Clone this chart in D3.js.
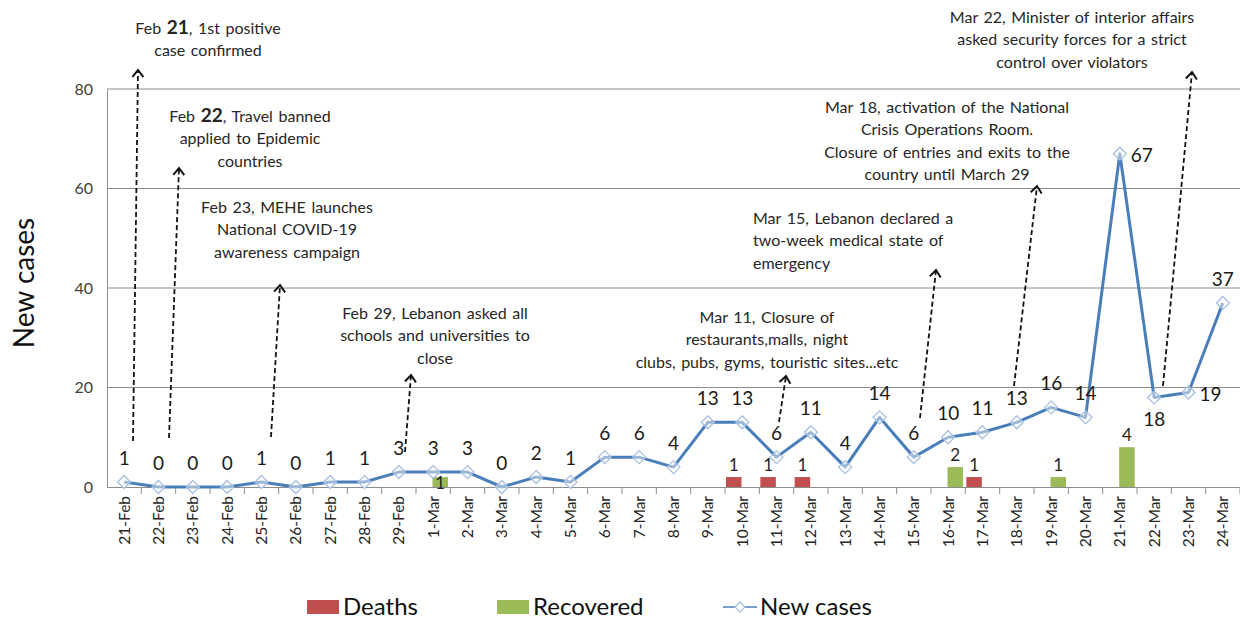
<!DOCTYPE html>
<html>
<head>
<meta charset="utf-8">
<script src="https://cdn.jsdelivr.net/npm/d3@7"></script>
<style>
  body { margin: 0; background: #fff; }
  svg { display: block; font-family: Lato, "Open Sans", sans-serif; }
</style>
</head>
<body>
<svg id="chart" width="1240" height="619"></svg>
<script>
// data
var dates = ['21-Feb','22-Feb','23-Feb','24-Feb','25-Feb','26-Feb','27-Feb','28-Feb','29-Feb',
  '1-Mar','2-Mar','3-Mar','4-Mar','5-Mar','6-Mar','7-Mar','8-Mar','9-Mar','10-Mar','11-Mar',
  '12-Mar','13-Mar','14-Mar','15-Mar','16-Mar','17-Mar','18-Mar','19-Mar','20-Mar','21-Mar',
  '22-Mar','23-Mar','24-Mar'];
var newCases = [1,0,0,0,1,0,1,1,3,3,3,0,2,1,6,6,4,13,13,6,11,4,14,6,10,11,13,16,14,67,18,19,37];
var deaths    = [0,0,0,0,0,0,0,0,0,0,0,0,0,0,0,0,0,0,1,1,1,0,0,0,0,1,0,0,0,0,0,0,0];
var recovered = [0,0,0,0,0,0,0,0,0,1,0,0,0,0,0,0,0,0,0,0,0,0,0,0,2,0,0,1,0,4,0,0,0];
var yTicks = [0, 20, 40, 60, 80];

var notes = [
  ['Feb 21, 1st positive', 'case confirmed'],
  ['Feb 22, Travel banned', 'applied to Epidemic', 'countries'],
  ['Feb 23, MEHE launches', 'National COVID-19', 'awareness campaign'],
  ['Feb 29, Lebanon asked all', 'schools and universities to', 'close'],
  ['Mar 11, Closure of', 'restaurants,malls, night', 'clubs, pubs, gyms, touristic sites...etc'],
  ['Mar 15, Lebanon declared a', 'two-week medical state of', 'emergency'],
  ['Mar 18, activation of the National', 'Crisis Operations Room.', 'Closure of entries and exits to the', 'country until March 29'],
  ['Mar 22, Minister of interior affairs', 'asked security forces for a strict', 'control over violators']
];

// layout of the annotation boxes and arrows (pixels)
var noteLayout = [
  {x: 208, y: 28, anchor: 'middle', from: [133, 441], to: [138, 70]},
  {x: 250, y: 116, anchor: 'middle', from: [169, 438], to: [179, 168]},
  {x: 287, y: 207, anchor: 'middle', from: [271, 437], to: [280, 285]},
  {x: 435, y: 313, anchor: 'middle', from: [405, 452], to: [411, 375]},
  {x: 767, y: 317, anchor: 'middle', from: [779, 422], to: [786, 376]},
  {x: 753, y: 218, anchor: 'start', from: [920, 418], to: [936, 270]},
  {x: 947, y: 107, anchor: 'middle', from: [1014, 386], to: [1037, 186]},
  {x: 1072, y: 17, anchor: 'middle', from: [1163, 386], to: [1192, 72]}
];

var svg = d3.select('#chart');
var plotLeft = 107, plotRight = 1240, plotTop = 89, plotBottom = 487;

var x = d3.scaleBand().domain(dates).range([plotLeft, plotRight]).padding(0);
var y = d3.scaleLinear().domain([0, 80]).range([plotBottom, plotTop]);
var yBar = d3.scaleLinear().domain([0, 40]).range([plotBottom, plotTop]);
var bw = x.bandwidth();

// gridlines
svg.append('g').selectAll('line')
  .data(yTicks.filter(function (d) { return d > 0; }))
  .enter().append('line')
  .attr('x1', plotLeft).attr('x2', plotRight)
  .attr('y1', function (d) { return y(d); })
  .attr('y2', function (d) { return y(d); })
  .attr('stroke', '#8c8c8c').attr('stroke-width', 1);

// y axis
var yAxis = svg.append('g')
  .attr('transform', 'translate(' + plotLeft + ',0)')
  .call(d3.axisLeft(y).tickValues(yTicks).tickSize(0).tickPadding(14));
yAxis.select('.domain').attr('stroke', '#8c8c8c');
yAxis.selectAll('text')
  .style('font-family', 'Lato, sans-serif')
  .style('font-size', '16px')
  .attr('fill', '#404040');

// x axis
var xAxis = svg.append('g')
  .attr('transform', 'translate(0,' + plotBottom + ')')
  .call(d3.axisBottom(x).tickSize(0).tickPadding(0));
xAxis.select('.domain').attr('stroke', '#8c8c8c');
xAxis.selectAll('text')
  .style('font-family', 'Lato, sans-serif')
  .style('font-size', '15.5px')
  .attr('fill', '#262626')
  .attr('text-anchor', 'end')
  .attr('y', 0)
  .attr('dy', '0.35em')
  .attr('transform', 'translate(0,9) rotate(-90)');
// tick marks between categories
xAxis.selectAll('.sep')
  .data(dates)
  .enter().append('line')
  .attr('class', 'sep')
  .attr('x1', function (d) { return x(d) + bw; })
  .attr('x2', function (d) { return x(d) + bw; })
  .attr('y1', 0).attr('y2', 7)
  .attr('stroke', '#8c8c8c');

// y title
svg.append('text')
  .attr('transform', 'translate(24,283) rotate(-90)')
  .attr('text-anchor', 'middle')
  .attr('dy', '0.35em')
  .style('font-size', '28px')
  .attr('fill', '#111')
  .text('New cases');

// bars
var barW = 15.5;
var barData = [];
dates.forEach(function (d, i) {
  if (deaths[i] > 0) barData.push({date: d, v: deaths[i], off: 1, color: '#c0504d'});
  if (recovered[i] > 0) barData.push({date: d, v: recovered[i], off: 16.5, color: '#9bbb59'});
});
svg.append('g').selectAll('rect')
  .data(barData)
  .enter().append('rect')
  .attr('x', function (d) { return x(d.date) + d.off; })
  .attr('y', function (d) { return yBar(d.v); })
  .attr('width', barW)
  .attr('height', function (d) { return plotBottom - yBar(d.v); })
  .attr('fill', function (d) { return d.color; });
svg.append('g').selectAll('text')
  .data(barData)
  .enter().append('text')
  .attr('x', function (d) { return x(d.date) + d.off + barW / 2; })
  .attr('y', function (d) { return d.date == '1-Mar' ? yBar(d.v) + 6 : yBar(d.v) - 12; })
  .attr('text-anchor', 'middle')
  .attr('dy', '0.35em')
  .style('font-size', '17px')
  .attr('fill', '#262626')
  .text(function (d) { return d.v; });

// line
var line = d3.line()
  .x(function (d, i) { return x(dates[i]) + bw / 2; })
  .y(function (d) { return y(d); });
svg.append('path')
  .datum(newCases)
  .attr('d', line)
  .attr('fill', 'none')
  .attr('stroke', '#4a7ebb')
  .attr('stroke-width', 3)
  .attr('stroke-linejoin', 'round');

svg.append('g').selectAll('path')
  .data(newCases)
  .enter().append('path')
  .attr('d', 'M0,-6.5L6.5,0L0,6.5L-6.5,0Z')
  .attr('transform', function (d, i) { return 'translate(' + (x(dates[i]) + bw / 2) + ',' + y(d) + ')'; })
  .attr('fill', 'rgba(255,255,255,0.45)')
  .attr('stroke', '#a7bfe0')
  .attr('stroke-width', 1.3);

// value labels
var labelSide = {'21-Mar': 'right', '22-Mar': 'below', '23-Mar': 'right'};
svg.append('g').selectAll('text')
  .data(newCases)
  .enter().append('text')
  .attr('x', function (d, i) {
    var cx = x(dates[i]) + bw / 2;
    return labelSide[dates[i]] == 'right' ? cx + 11 : cx;
  })
  .attr('y', function (d, i) {
    var s = labelSide[dates[i]];
    if (s == 'right') return y(d) + 2;
    if (s == 'below') return y(d) + 22;
    return y(d) - 24;
  })
  .attr('text-anchor', function (d, i) { return labelSide[dates[i]] == 'right' ? 'start' : 'middle'; })
  .attr('dy', '0.35em')
  .style('font-size', '19px')
  .attr('fill', '#1a1a1a')
  .text(function (d) { return d; });

// annotations
svg.append('defs').append('marker')
  .attr('id', 'head')
  .attr('viewBox', '-8 -8 16 16')
  .attr('refX', 0).attr('refY', 0)
  .attr('markerWidth', 16).attr('markerHeight', 16)
  .attr('markerUnits', 'userSpaceOnUse')
  .attr('orient', 'auto')
  .append('path')
  .attr('d', 'M-7,-5.5L0,0L-7,5.5')
  .attr('fill', 'none')
  .attr('stroke', '#111')
  .attr('stroke-width', 2);

noteLayout.forEach(function (n, k) {
  svg.append('line')
    .attr('x1', n.from[0]).attr('y1', n.from[1])
    .attr('x2', n.to[0]).attr('y2', n.to[1])
    .attr('stroke', '#111')
    .attr('stroke-width', 1.8)
    .attr('stroke-dasharray', '5,3')
    .attr('marker-end', 'url(#head)');

  var t = svg.append('text')
    .attr('text-anchor', n.anchor)
    .style('font-size', '16px')
    .style('word-spacing', '1.5px')
    .attr('fill', '#262626');
  notes[k].forEach(function (s, j) {
    var ts = t.append('tspan')
      .attr('x', n.x)
      .attr('y', n.y + j * 22.5)
      .attr('dy', '0.35em');
    var m = s.match(/^(Feb )(2[12])(,.*)$/);
    if (m) {
      ts.append('tspan').text(m[1]);
      ts.append('tspan').style('font-size', '19px').style('font-weight', 'bold').text(m[2]);
      ts.append('tspan').text(m[3]);
    } else {
      ts.text(s);
    }
  });
});

// legend
var legend = svg.append('g');
legend.append('rect').attr('x', 307).attr('y', 600).attr('width', 32).attr('height', 14).attr('fill', '#c0504d');
legend.append('text').attr('x', 343).attr('y', 607).attr('dy', '0.35em').style('font-size', '24px').attr('fill', '#111').text('Deaths');
legend.append('rect').attr('x', 497).attr('y', 600).attr('width', 32).attr('height', 14).attr('fill', '#9bbb59');
legend.append('text').attr('x', 533).attr('y', 607).attr('dy', '0.35em').style('font-size', '24px').attr('fill', '#111').text('Recovered');
legend.append('line').attr('x1', 723).attr('x2', 757).attr('y1', 607).attr('y2', 607).attr('stroke', '#4a7ebb').attr('stroke-width', 1.5);
legend.append('path').attr('d', 'M0,-5L5,0L0,5L-5,0Z').attr('transform', 'translate(740,607)')
  .attr('fill', '#fff').attr('stroke', '#a7bfe0').attr('stroke-width', 1.3);
legend.append('text').attr('x', 760).attr('y', 607).attr('dy', '0.35em').style('font-size', '24px').attr('fill', '#111').text('New cases');
</script>
</body>
</html>
